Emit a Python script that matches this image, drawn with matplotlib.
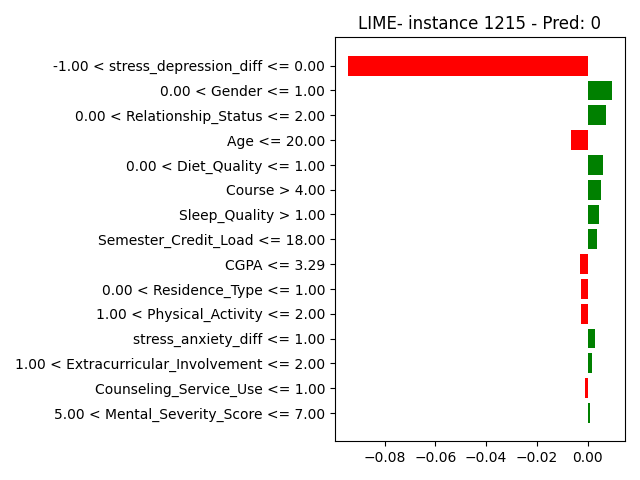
import matplotlib
matplotlib.use('Agg')
import matplotlib.pyplot as plt
import numpy as np

# LIME-объяснение, признаки сверху вниз
features = [
    '-1.00 < stress_depression_diff <= 0.00',
    '0.00 < Gender <= 1.00',
    '0.00 < Relationship_Status <= 2.00',
    'Age <= 20.00',
    '0.00 < Diet_Quality <= 1.00',
    'Course > 4.00',
    'Sleep_Quality > 1.00',
    'Semester_Credit_Load <= 18.00',
    'CGPA <= 3.29',
    '0.00 < Residence_Type <= 1.00',
    '1.00 < Physical_Activity <= 2.00',
    'stress_anxiety_diff <= 1.00',
    '1.00 < Extracurricular_Involvement <= 2.00',
    'Counseling_Service_Use <= 1.00',
    '5.00 < Mental_Severity_Score <= 7.00',
]
weights = [-0.0944, 0.0095, 0.0072, -0.0064, 0.0060, 0.0052, 0.0044, 0.0036,
           -0.0032, -0.0028, -0.0027, 0.0028, 0.0016, -0.0012, 0.0008]


def plot_explanation(features, weights):
    """Строит столбчатую диаграмму весов LIME."""
    vals = list(reversed(weights))
    names = list(reversed(features))
    colors = ['green' if v > 0 else 'red' for v in vals]
    pos = np.arange(len(vals)) + 0.5

    fig = plt.figure(figsize=(6.4, 4.8), dpi=100)
    plt.barh(pos, vals, align='center', color=colors)
    plt.yticks(pos, names)
    plt.title('LIME- instance 1215 - Pred: 0')
    plt.tight_layout()
    fig.savefig('out.png')


plot_explanation(features, weights)
